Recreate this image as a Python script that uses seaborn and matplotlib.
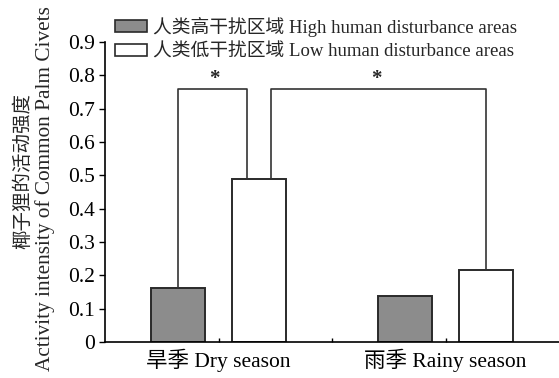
import matplotlib
matplotlib.use("Agg")
import matplotlib.pyplot as plt
import seaborn as sns
import pandas as pd
import numpy as np

seasons = ["旱季 Dry season", "雨季 Rainy season"]
groups = ["人类高干扰区域 High human disturbance areas", "人类低干扰区域 Low human disturbance areas"]
high_vals = [0.162, 0.138]
low_vals = [0.489, 0.216]
yticks = [0, 0.1, 0.2, 0.3, 0.4, 0.5, 0.6, 0.7, 0.8, 0.9]
ytick_labels = ["0", "0.1", "0.2", "0.3", "0.4", "0.5", "0.6", "0.7", "0.8", "0.9"]
bracket_y = [0.758, 0.758]
bracket_marks = ["*", "*"]
ylabel_cn = "椰子狸的活动强度"
ylabel_en = "Activity intensity of Common Palm Civets"

sns.set_theme(style="white")
FAM = ["Liberation Serif", "Noto Sans CJK SC"]
plt.rcParams["font.family"] = FAM

df = pd.DataFrame({
    "season": seasons * 2,
    "group": [groups[0]] * 2 + [groups[1]] * 2,
    "value": high_vals + low_vals,
})

fig = plt.figure(figsize=(5.59, 3.78), dpi=100)
ax = fig.add_axes([0.188, 0.095, 0.812, 0.794])
sns.barplot(data=df, x="season", y="value", hue="group", hue_order=groups,
            palette=["#8c8c8c", "white"], edgecolor="#2a2a2a", linewidth=1.4,
            width=0.72, gap=0.34, ax=ax, errorbar=None)

ax.set_xlim(-0.5, 1.5)
ax.set_ylim(0, 0.9)
ax.set_yticks(yticks)
ax.set_yticklabels(ytick_labels, fontsize=15.5)
ax.set_xticks([0, 0.5, 1])
ax.set_xticklabels([seasons[0], "", seasons[1]], fontsize=15.5)
ax.tick_params(axis="x", direction="in", length=3, width=1, pad=5, colors="black", bottom=True)
ax.tick_params(axis="y", direction="out", length=4, width=1, pad=3, colors="black", left=True)
for s in ["top", "right"]:
    ax.spines[s].set_visible(False)
for s in ["left", "bottom"]:
    ax.spines[s].set_color("black")
    ax.spines[s].set_linewidth(1.2)
ax.set_xlabel("")
ax.set_ylabel("")

fig.text(23 / 559, 1 - 171 / 378, ylabel_cn, rotation=90, ha="center", va="center", fontsize=14)
fig.text(45 / 559, 1 - 189 / 378, ylabel_en, rotation=90, ha="center", va="center", fontsize=15.3)

# bar centers and tops from drawn patches
bars = [p for p in ax.patches if p.get_height() > 0]
bars = sorted(bars, key=lambda p: p.get_x())
centers = [p.get_x() + p.get_width() / 2 for p in bars]
tops = [p.get_height() for p in bars]
# order: dry-high, dry-low, rainy-high, rainy-low
off = 0.053
lc = "#333333"
x1, x2 = centers[0], centers[1] - off
ax.plot([x1, x1, x2, x2], [tops[0], bracket_y[0], bracket_y[0], tops[1]], color=lc, lw=1.2, zorder=1)
ax.text((x1 + x2) / 2 + 0.01, bracket_y[0] + 0.0, bracket_marks[0], ha="center", va="bottom", fontsize=15, fontweight="bold")
x3, x4 = centers[1] + off, centers[3]
ax.plot([x3, x3, x4, x4], [tops[1], bracket_y[1], bracket_y[1], tops[3]], color=lc, lw=1.2, zorder=1)
ax.text((x3 + x4) / 2 - 0.01, bracket_y[1] + 0.0, bracket_marks[1], ha="center", va="bottom", fontsize=15, fontweight="bold")

leg = ax.legend(loc="upper left", bbox_to_anchor=(0.206, 0.956), bbox_transform=fig.transFigure,
                frameon=False, fontsize=13.5, handlelength=1.7, handleheight=0.62,
                handletextpad=0.3, labelspacing=0.35, borderpad=0, borderaxespad=0)
for h in leg.legend_handles:
    h.set_edgecolor("#2a2a2a")
    h.set_linewidth(1.2)

fig.savefig("out.png", dpi=100)
